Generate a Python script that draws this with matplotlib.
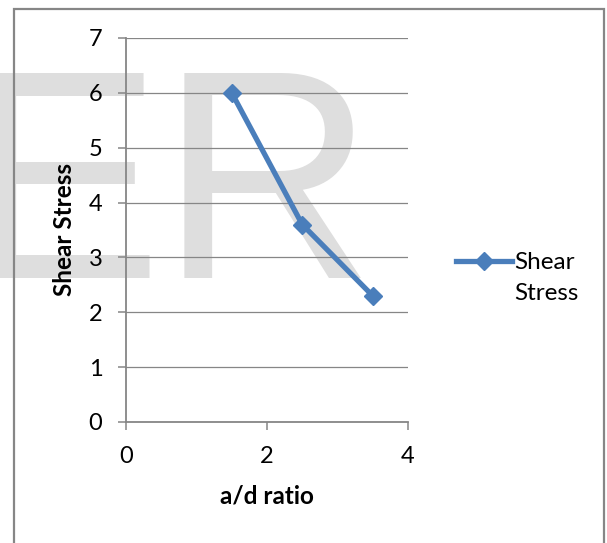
import matplotlib
matplotlib.use("Agg")
import matplotlib.pyplot as plt
from matplotlib.patches import Rectangle

# data
ad_ratio = [1.5, 2.5, 3.5]
shear_stress = [6.0, 3.6, 2.3]
series_name = "Shear\nStress"
x_label = "a/d ratio"
y_label = "Shear Stress"
x_ticks = [0, 2, 4]
y_ticks = [0, 1, 2, 3, 4, 5, 6, 7]

W, H = 607, 543
DPI = 100
fig = plt.figure(figsize=(W / DPI, H / DPI), dpi=DPI)
fig.patch.set_facecolor("white")

FONT = ["Lato", "DejaVu Sans"]
GRAY = "#868686"
BLUE = "#4A7EBB"

def fx(px):
    return px / W

def fy(py):
    return 1 - py / H

# watermark (behind everything)
fig.text(fx(-36), fy(278), "E", fontsize=214, family=["Liberation Sans"],
         color="#dedede", ha="left", va="baseline", zorder=-10)
fig.text(fx(160), fy(278), "R", fontsize=214, family=["Liberation Sans"],
         color="#dedede", ha="left", va="baseline", zorder=-10)

# outer border
fig.patches.append(Rectangle((fx(14), fy(560)), fx(604) - fx(14), fy(9) - fy(560),
                             transform=fig.transFigure, fill=False,
                             edgecolor=GRAY, linewidth=1.6, zorder=-5))

ax = fig.add_axes([fx(126), fy(422), fx(408) - fx(126), fy(38) - fy(422)])
ax.set_zorder(1)
ax.patch.set_alpha(0)
ax.set_xlim(0, 4)
ax.set_ylim(0, 7)
ax.set_xticks(x_ticks)
ax.set_yticks(y_ticks)
ax.set_xticklabels([str(t) for t in x_ticks], family=FONT, fontsize=17)
ax.set_yticklabels([str(t) for t in y_ticks], family=FONT, fontsize=17)
ax.tick_params(axis="both", direction="out", length=6, width=1.1, color=GRAY, pad=11)
for s in ["top", "right"]:
    ax.spines[s].set_visible(False)
for s in ["left", "bottom"]:
    ax.spines[s].set_color(GRAY)
    ax.spines[s].set_linewidth(1.3)
ax.yaxis.grid(True, color=GRAY, linewidth=0.9)
ax.set_axisbelow(True)

ax.plot(ad_ratio, shear_stress, color=BLUE, linewidth=3.8, marker="D",
        markersize=9.5, markerfacecolor=BLUE, markeredgecolor=BLUE,
        label=series_name, zorder=3, clip_on=False)

ax.set_xlabel(x_label, family=FONT, fontsize=17.5, fontweight="bold", labelpad=13)
ax.set_ylabel(y_label, family=FONT, fontsize=17.5, fontweight="bold", labelpad=9)

leg = ax.legend(loc="center left", bbox_to_anchor=(1.135, 0.376), frameon=False,
                prop={"family": FONT, "size": 17.5}, handlelength=2.3,
                handletextpad=0.1, borderaxespad=0)
for t in leg.get_texts():
    t.set_linespacing(1.6)
# align the handle with the first line of the label
for ln in leg.get_lines():
    yd = ln.get_ydata()
    ln.set_ydata([y + 12 for y in yd])

fig.savefig("out.png", dpi=DPI)
